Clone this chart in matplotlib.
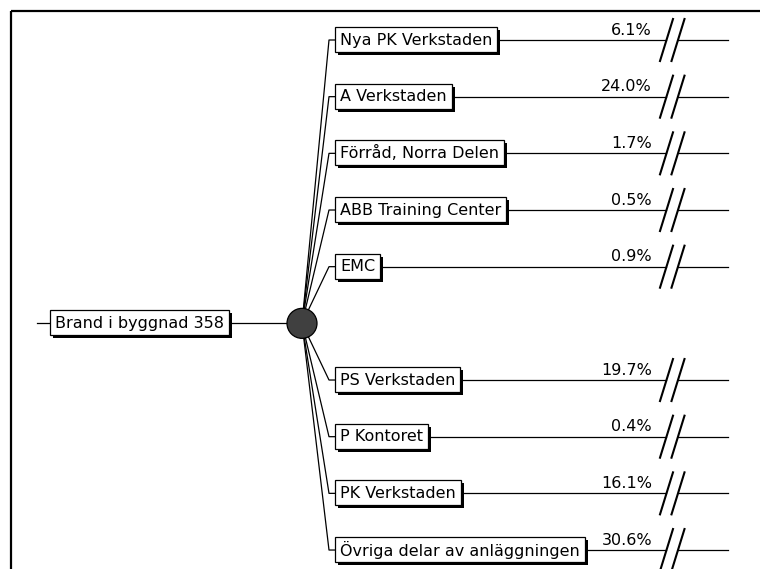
import matplotlib.pyplot as plt
from matplotlib.patches import Rectangle, Circle

# Händelseträd: brand i byggnad 358
rot = "Brand i byggnad 358"
grenar = ["Nya PK Verkstaden", "A Verkstaden", "Förråd, Norra Delen",
          "ABB Training Center", "EMC", "PS Verkstaden", "P Kontoret",
          "PK Verkstaden", "Övriga delar av anläggningen"]
andel = [6.1, 24.0, 1.7, 0.5, 0.9, 19.7, 0.4, 16.1, 30.6]

plt.rcParams['font.family'] = ['DejaVu Sans']
FS = 11.5

fig = plt.figure(figsize=(7.6, 5.69), dpi=100)
ax = fig.add_axes([0, 0, 1, 1])
ax.set_xlim(0, 760)
ax.set_ylim(569, 0)
ax.axis('off')

# ram
ax.plot([11, 760], [11, 11], color='black', lw=1.6, solid_capstyle='butt')
ax.plot([11, 11], [11, 569], color='black', lw=1.6, solid_capstyle='butt')

lw = 0.9
y0, steg = 40, 56.67
rot_y = y0 + 5 * steg
nod_x = 302
kant_x = 329
box_x = 335
slut_x = 728


def ruta(x, y, text):
    t = ax.text(x + 5, y, text, ha='left', va='center', fontsize=FS, zorder=5)
    fig.canvas.draw()
    bb = t.get_window_extent()
    inv = ax.transData.inverted()
    (x1, _), (x2, _) = inv.transform([[bb.x0, bb.y0], [bb.x1, bb.y1]])
    hoger = x2 + 5
    ax.add_patch(Rectangle((x + 3, y - 10), hoger - x, 25, fc='black', ec='none', zorder=3))
    ax.add_patch(Rectangle((x, y - 13), hoger - x, 25, fc='white', ec='black', lw=lw, zorder=4))
    return hoger


# rotnod
ax.plot([37, 50], [rot_y, rot_y], color='black', lw=lw)
h = ruta(50, rot_y, rot)
ax.plot([h, nod_x], [rot_y, rot_y], color='black', lw=lw)
ax.add_patch(Circle((nod_x, rot_y), 15, fc='#404040', ec='black', lw=lw, zorder=6))

platser = [0, 1, 2, 3, 4, 6, 7, 8, 9]
for namn, p, s in zip(grenar, andel, platser):
    y = y0 + s * steg
    ax.plot([nod_x, kant_x, box_x], [rot_y, y, y], color='black', lw=lw, zorder=2)
    h = ruta(box_x, y, namn)
    ax.plot([h, 666], [y, y], color='black', lw=lw)
    ax.plot([678, slut_x], [y, y], color='black', lw=lw)
    for cx in (666.5, 678):
        ax.plot([cx - 6.5, cx + 6.5], [y + 21, y - 21], color='black', lw=1.5)
    ax.text(652, y - 10, f"{p:.1f}%", ha='right', va='center', fontsize=FS)

fig.savefig("out.png", dpi=100)
